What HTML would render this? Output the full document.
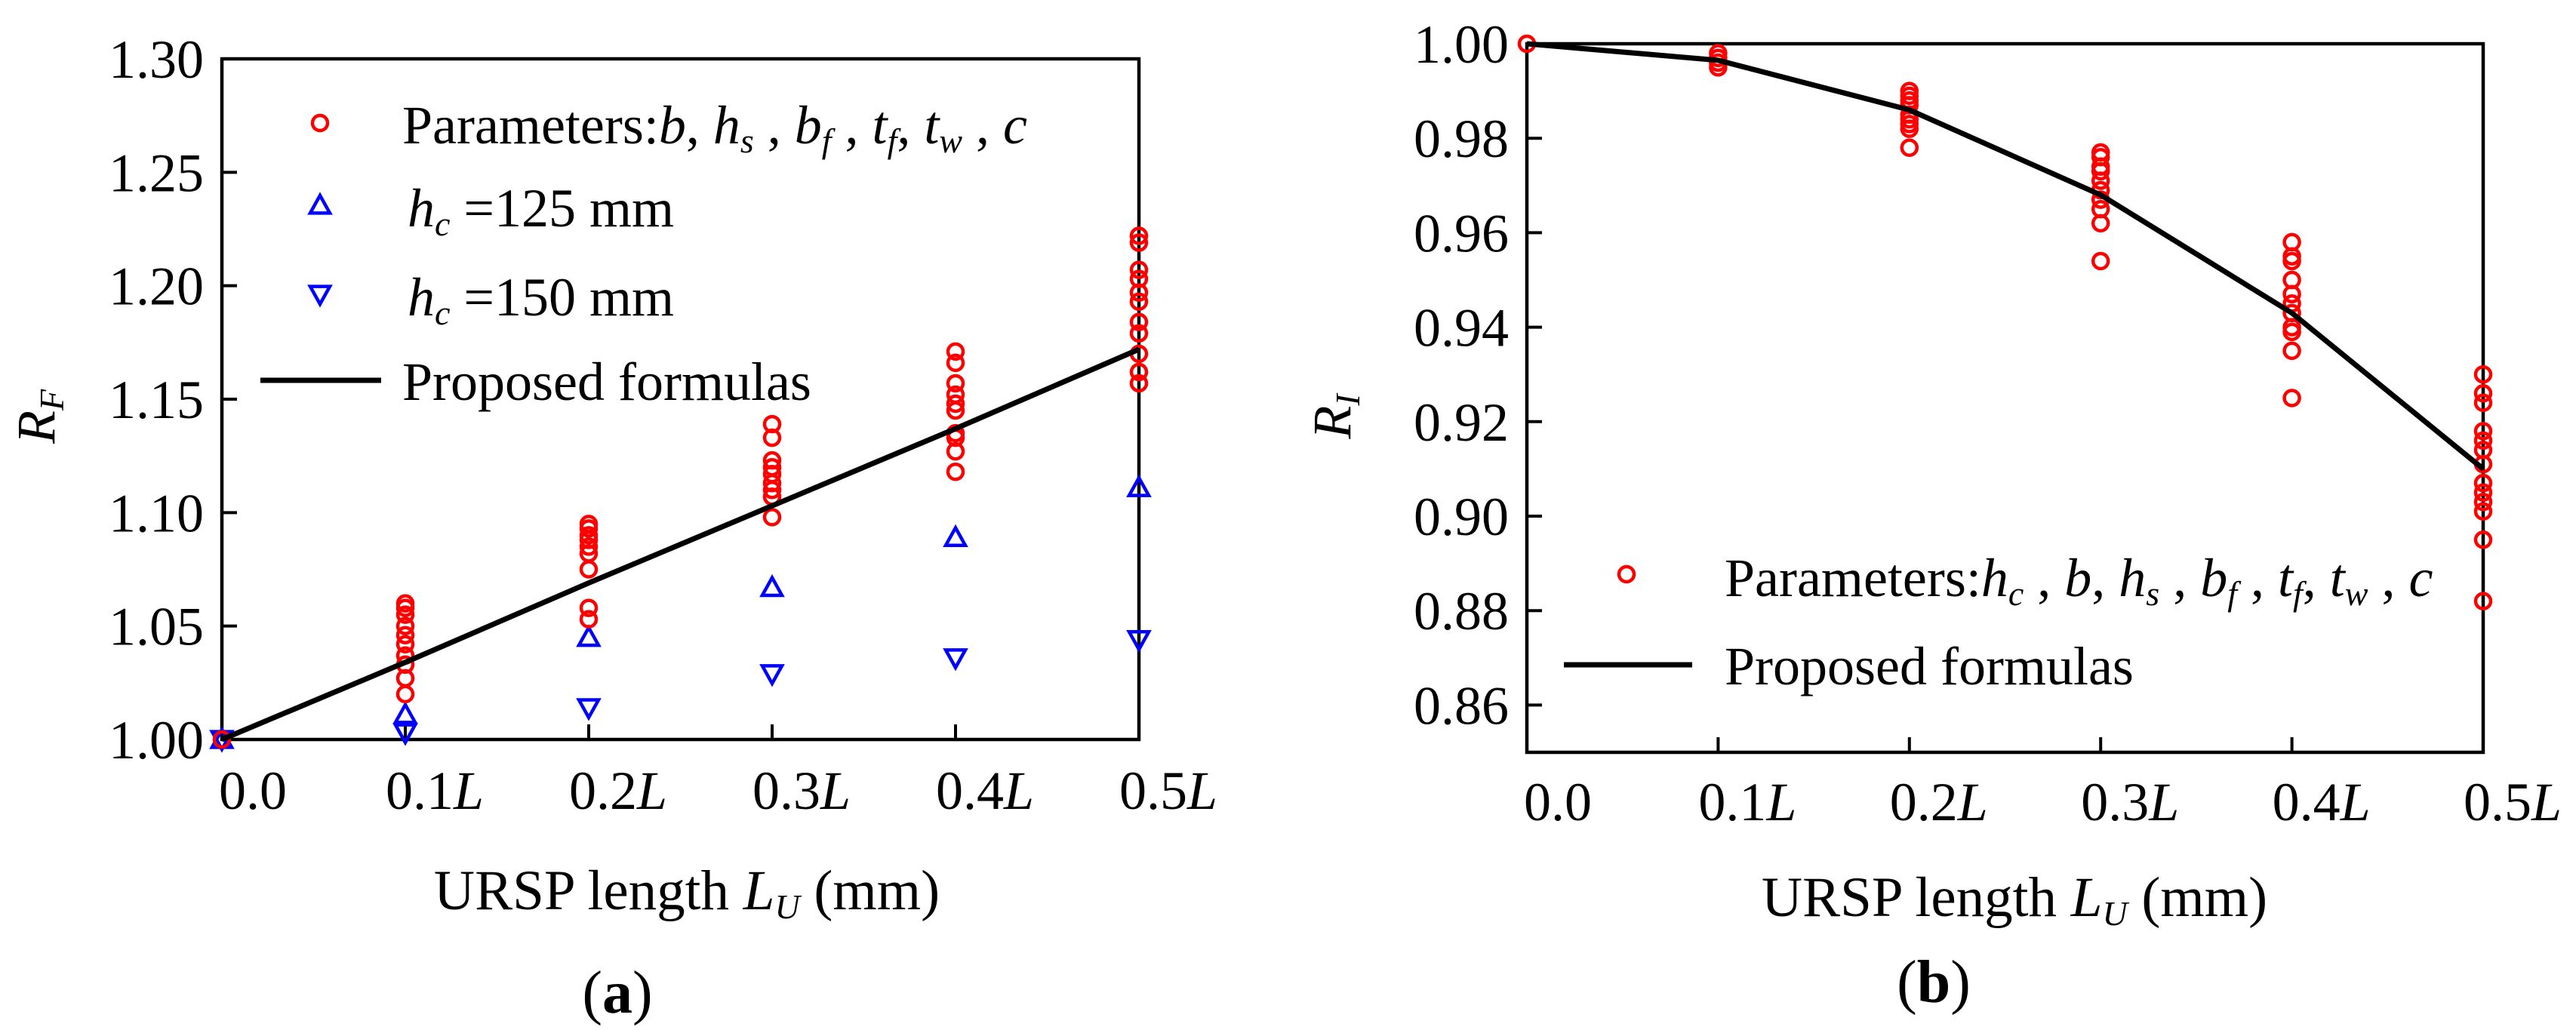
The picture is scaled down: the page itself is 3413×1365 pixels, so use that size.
<!DOCTYPE html>
<html><head><meta charset="utf-8"><style>
html,body{margin:0;padding:0;background:#fff}
svg{display:block}
text{font-family:"Liberation Serif","Times New Roman",serif;fill:#000}
</style></head><body>
<svg id="fig" width="3413" height="1365" viewBox="0 0 3413 1365" xmlns="http://www.w3.org/2000/svg">
<g id="pa"></g>
<g id="pb"></g>
</svg>
<script>
// ---------- Panel (a) data ----------
const aCategories = [0, 0.1, 0.2, 0.3, 0.4, 0.5];
const aXTickLabels = ["0.0", "0.1", "0.2", "0.3", "0.4", "0.5"];
const aYTicks = [1.00, 1.05, 1.10, 1.15, 1.20, 1.25, 1.30];
const aRed = [
  [1.0],
  [1.020,1.027,1.033,1.037,1.042,1.046,1.050,1.055,1.058,1.060],
  [1.053,1.058,1.075,1.082,1.085,1.088,1.090,1.093,1.095],
  [1.098,1.107,1.110,1.113,1.117,1.120,1.123,1.133,1.139],
  [1.118,1.127,1.133,1.135,1.145,1.148,1.152,1.157,1.166,1.171],
  [1.157,1.162,1.170,1.179,1.184,1.193,1.197,1.203,1.207,1.219,1.222]
];
const aUp = [1.0, 1.011, 1.045, 1.067, 1.089, 1.111];
const aDown = [1.0, 1.003, 1.014, 1.029, 1.036, 1.044];
const aLine = [1.0, 1.034, 1.069, 1.103, 1.137, 1.172];

// ---------- Panel (b) data ----------
const bCategories = [0, 0.1, 0.2, 0.3, 0.4, 0.5];
const bXTickLabels = ["0.0", "0.1", "0.2", "0.3", "0.4", "0.5"];
const bYTicks = [0.86, 0.88, 0.90, 0.92, 0.94, 0.96, 0.98, 1.00];
const bRed = [
  [1.0],
  [0.998,0.997,0.996,0.995],
  [0.990,0.989,0.988,0.987,0.985,0.984,0.983,0.982,0.978],
  [0.977,0.976,0.974,0.973,0.971,0.969,0.967,0.965,0.962,0.954],
  [0.958,0.955,0.954,0.950,0.947,0.945,0.943,0.940,0.939,0.935,0.925],
  [0.930,0.926,0.924,0.918,0.916,0.914,0.911,0.907,0.905,0.903,0.901,0.895,0.882]
];
const bLine = [1.0, 0.9965, 0.986, 0.968, 0.943, 0.910];

const NS = "http://www.w3.org/2000/svg";
function mk(parent, tag, attrs) {
  const e = document.createElementNS(NS, tag);
  for (const k in attrs) e.setAttribute(k, attrs[k]);
  parent.appendChild(e);
  return e;
}
function circle(g, x, y) {
  const c = mk(g, "circle", {cx: x, cy: y, r: 10, fill: "none", stroke: "#ff0000", "stroke-width": 4.5});
  
  
}
function tri(g, x, y, up) {
  const s = 13;
  const pts = up ? [[x, y - s], [x - s, y + s * 0.8], [x + s, y + s * 0.8]] : [[x, y + s], [x - s, y - s * 0.8], [x + s, y - s * 0.8]];
  const p = mk(g, "polygon", {points: pts.map(q => q.join(",")).join(" "), fill: "none", stroke: "#0000ff", "stroke-width": 4.5});
  
  
}
function txt(g, x, y, html, attrs, name) {
  const t = mk(g, "text", Object.assign({x: x, y: y, "font-size": 72}, attrs || {}));
  t.innerHTML = html;
  
  
  return t;
}

function panel(g, cfg) {
  const X = v => cfg.x0 + (v - cfg.xmin) / (cfg.xmax - cfg.xmin) * (cfg.x1 - cfg.x0);
  const Y = v => cfg.y0 - (v - cfg.ymin) / (cfg.ymax - cfg.ymin) * (cfg.y0 - cfg.y1);
  // ticks
  cfg.yTicks.forEach((v, i) => {
    const y = Y(v);
    const tk = mk(g, "line", {x1: cfg.x0, y1: y, x2: cfg.x0 + 20, y2: y, stroke: "#000", "stroke-width": 4});
    
    
    txt(g, cfg.x0 - 24, y + 25, v.toFixed(2), {"text-anchor": "end"}, 'y-tick-label');
  });
  cfg.cats.forEach((v, i) => {
    const x = X(v);
    if (i > 0) {
      const tk = mk(g, "line", {x1: x, y1: cfg.y0, x2: x, y2: cfg.y0 - 20, stroke: "#000", "stroke-width": 4});
      
      
    }
    const lab = cfg.xLabels[i] + (i > 0 ? '<tspan font-style="italic">L</tspan>' : '');
    txt(g, i > 0 ? x - 26 : x - 4, cfg.y0 + cfg.xlabOff, lab, {}, 'x-tick-label');
  });
  // frame
  const fr = mk(g, "rect", {x: cfg.x0, y: cfg.y1, width: cfg.x1 - cfg.x0, height: cfg.y0 - cfg.y1, fill: "none", stroke: "#000", "stroke-width": 4.5});
  
  
  // markers
  const mg = mk(g, "g", {});
  
  
  if (cfg.up) cfg.cats.forEach((v, i) => { tri(mg, X(v), Y(cfg.up[i]), true); tri(mg, X(v), Y(cfg.down[i]), false); });
  cfg.red.forEach((arr, i) => arr.forEach(v => circle(mg, X(cfg.cats[i]), Y(v))));
  // line
  const pl = mk(g, "polyline", {points: cfg.cats.map((v, i) => X(v) + "," + Y(cfg.line[i])).join(" "), fill: "none", stroke: "#000", "stroke-width": 7});
  
  
}

const ga = document.getElementById("pa");
panel(ga, {x0: 294, x1: 1509, y0: 980, y1: 78, xmin: 0, xmax: 0.5, ymin: 1.0, ymax: 1.3,
  yTicks: aYTicks, cats: aCategories, xLabels: aXTickLabels, red: aRed, up: aUp, down: aDown, line: aLine, xlabOff: 92});
const gb = document.getElementById("pb");
panel(gb, {x0: 2023, x1: 3290, y0: 997, y1: 58, xmin: 0, xmax: 0.5, ymin: 0.85, ymax: 1.0,
  yTicks: bYTicks, cats: bCategories, xLabels: bXTickLabels, red: bRed, line: bLine, xlabOff: 90});

// legends panel a
const la = mk(ga, "g", {});


circle(la, 424, 163);
txt(la, 533, 190, 'Parameters:<tspan font-style="italic">b</tspan>, <tspan font-style="italic">h<tspan font-size="46" dy="12">s</tspan></tspan><tspan dy="-12"> , </tspan><tspan font-style="italic">b<tspan font-size="46" dy="12">f</tspan></tspan><tspan dy="-12"> , </tspan><tspan font-style="italic">t<tspan font-size="46" dy="12">f</tspan></tspan><tspan dy="-12">, </tspan><tspan font-style="italic">t<tspan font-size="46" dy="12">w</tspan></tspan><tspan dy="-12">  , </tspan><tspan font-style="italic">c</tspan>', {}, 'legend-parameters');
tri(la, 424, 272, true);
txt(la, 540, 300, '<tspan font-style="italic">h<tspan font-size="46" dy="12">c</tspan></tspan><tspan dy="-12"> =125 mm</tspan>', {}, 'legend-hc125');
tri(la, 424, 390, false);
txt(la, 540, 418, '<tspan font-style="italic">h<tspan font-size="46" dy="12">c</tspan></tspan><tspan dy="-12"> =150 mm</tspan>', {}, 'legend-hc150');
const lla = mk(la, "line", {x1: 345, y1: 504, x2: 505, y2: 504, stroke: "#000", "stroke-width": 7});


txt(la, 533, 530, 'Proposed formulas', {}, 'legend-proposed');

// legends panel b
const lb = mk(gb, "g", {});


circle(lb, 2155, 761);
txt(lb, 2285, 790, 'Parameters:<tspan font-style="italic">h<tspan font-size="46" dy="12">c</tspan></tspan><tspan dy="-12"> , </tspan><tspan font-style="italic">b</tspan>, <tspan font-style="italic">h<tspan font-size="46" dy="12">s</tspan></tspan><tspan dy="-12"> , </tspan><tspan font-style="italic">b<tspan font-size="46" dy="12">f</tspan></tspan><tspan dy="-12"> , </tspan><tspan font-style="italic">t<tspan font-size="46" dy="12">f</tspan></tspan><tspan dy="-12">, </tspan><tspan font-style="italic">t<tspan font-size="46" dy="12">w</tspan></tspan><tspan dy="-12">  , </tspan><tspan font-style="italic">c</tspan>', {}, 'legend-parameters');
const llb = mk(lb, "line", {x1: 2072, y1: 881, x2: 2242, y2: 881, stroke: "#000", "stroke-width": 7});


txt(lb, 2285, 907, 'Proposed formulas', {}, 'legend-proposed');

// axis titles
txt(ga, 910, 1205, 'URSP length <tspan font-style="italic">L<tspan font-size="46" dy="12">U</tspan></tspan><tspan dy="-12"> (mm)</tspan>', {"text-anchor": "middle", "font-size": 75}, 'x-axis-title');
txt(gb, 2669, 1214, 'URSP length <tspan font-style="italic">L<tspan font-size="46" dy="12">U</tspan></tspan><tspan dy="-12"> (mm)</tspan>', {"text-anchor": "middle", "font-size": 75}, 'x-axis-title');
txt(ga, 0, 0, '<tspan font-style="italic">R<tspan font-size="46" dy="12">F</tspan></tspan>', {transform: "translate(72,552) rotate(-90)", "text-anchor": "middle"}, 'y-axis-title');
txt(gb, 0, 0, '<tspan font-style="italic">R<tspan font-size="46" dy="12">I</tspan></tspan>', {transform: "translate(1789,552) rotate(-90)", "text-anchor": "middle"}, 'y-axis-title');
txt(ga, 818, 1342, '(<tspan font-weight="bold">a</tspan>)', {"text-anchor": "middle", "font-size": 80}, 'panel-label-a');
txt(gb, 2562, 1328, '(<tspan font-weight="bold">b</tspan>)', {"text-anchor": "middle", "font-size": 80}, 'panel-label-b');
</script>
</body></html>
